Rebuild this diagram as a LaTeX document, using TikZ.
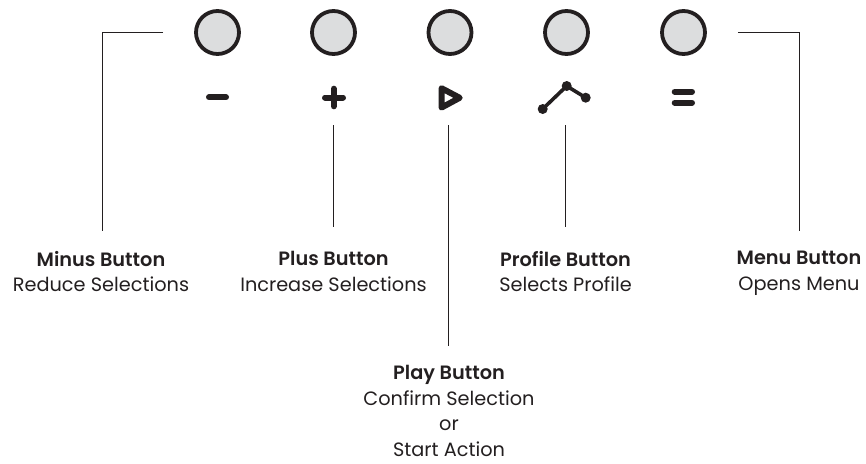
\documentclass[tikz,border=0pt]{standalone}
\usepackage{fontspec}
\setmainfont{Poppins}[BoldFont={Poppins SemiBold}]
\definecolor{ink}{HTML}{231F20}
\definecolor{btngray}{HTML}{DCDDDE}
\tikzset{
    btn/.style={shape=circle,draw=ink,fill=btngray,line width=3.8pt,minimum size=43pt,inner sep=0pt},
    glyph/.style={draw=ink,line width=6pt,line cap=round,line join=round},
    lead/.style={draw=ink,line width=0.9pt},
    tag/.style={align=center,text=ink,font=\fontsize{19.3}{25.6}\selectfont,inner sep=0pt,anchor=north}
}
\begin{document}
\begin{tikzpicture}[x=1pt,y=-1pt]
    \useasboundingbox (0,0) rectangle (866,463);

    \node[btn] (minusbtn) at (217.5,32.5) {};
    \node[btn] (plusbtn) at (333.5,32.5) {};
    \node[btn] (playbtn) at (450,32.5) {};
    \node[btn] (profilebtn) at (566.5,32.5) {};
    \node[btn] (menubtn) at (683.5,32.5) {};

    % icons
    \draw[glyph] (209,97.3) -- (226,97.3);
    \draw[glyph] (325,97.5) -- (343,97.5);
    \draw[glyph] (333.7,88.7) -- (333.7,106.3);
    \draw[glyph] (441.5,88.2) -- (459.7,97.8) -- (441.5,107.6) -- cycle;
    \draw[glyph,line width=3.6pt] (542.7,109) -- (566.7,86) -- (585.7,97.7);
    \fill[ink] (542.7,109) circle (5) (566.7,86) circle (5) (585.7,97.7) circle (5);
    \draw[glyph] (674.7,91.7) -- (692,91.7);
    \draw[glyph] (674.7,102.7) -- (692,102.7);

    \node[tag] (minustag) at (101,251) {\textbf{Minus Button}\\Reduce Selections};
    \node[tag] (plustag) at (333.5,251) {\textbf{Plus Button}\\Increase Selections};
    \node[tag] (playtag) at (449,365) {\textbf{Play Button}\\Confirm Selection\\or\\Start Action};
    \node[tag] (profiletag) at (565.5,251) {\textbf{Profile Button}\\Selects Profile};
    \node[tag] (menutag) at (799,251) {\textbf{Menu Button}\\Opens Menu};

    \coordinate (minusend) at (102,231);
    \coordinate (plusstart) at (333.7,125);
    \coordinate (plusend) at (333.7,226.7);
    \coordinate (playstart) at (448.7,125);
    \coordinate (playend) at (448.7,346);
    \coordinate (profilestart) at (565,125);
    \coordinate (profileend) at (565,226.7);
    \coordinate (menuend) at (799,231);

    \draw[lead] ([xshift=-31pt]minusbtn.west) -| (minusend);
    \draw[lead] (plusstart) -- (plusend);
    \draw[lead] (playstart) -- (playend);
    \draw[lead] (profilestart) -- (profileend);
    \draw[lead] ([xshift=31pt]menubtn.east) -| (menuend);
\end{tikzpicture}
\end{document}
